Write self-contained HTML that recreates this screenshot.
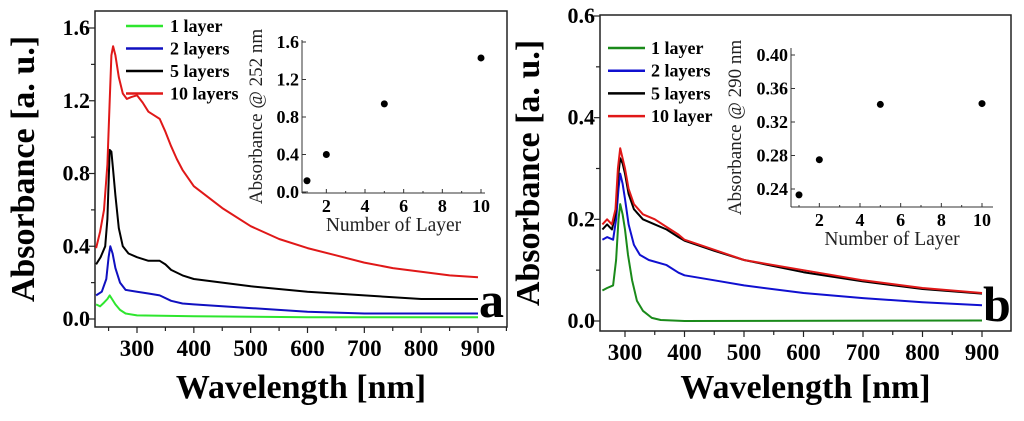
<!DOCTYPE html>
<html><head><meta charset="utf-8"><style>
html,body{margin:0;padding:0;background:#fff;width:1024px;height:421px;overflow:hidden}
svg{display:block;font-family:"Liberation Serif",serif}
</style></head><body>
<svg id="fig" width="1024" height="421"></svg>
<script>
// ---- Panel a data ----
const aRedWl=[228,235,242,248,252,255,258,262,268,275,282,290,300,310,320,330,340,350,360,370,380,400,450,500,550,600,650,700,750,800,850,900];
const aRedAbs=[0.39,0.48,0.6,0.85,1.2,1.45,1.5,1.45,1.33,1.24,1.21,1.22,1.23,1.19,1.14,1.12,1.1,1.03,0.95,0.88,0.82,0.73,0.61,0.51,0.44,0.39,0.35,0.31,0.28,0.26,0.24,0.23];
const aBlackWl=[228,236,244,248,252,255,258,262,268,275,285,300,320,340,350,360,380,400,500,600,700,800,900];
const aBlackAbs=[0.3,0.34,0.4,0.55,0.93,0.92,0.82,0.68,0.5,0.4,0.36,0.34,0.32,0.32,0.3,0.27,0.24,0.22,0.18,0.15,0.13,0.11,0.11];
const aBlueWl=[228,238,246,250,253,257,262,270,280,300,320,340,360,380,400,500,600,700,900];
const aBlueAbs=[0.13,0.15,0.22,0.34,0.4,0.36,0.28,0.2,0.16,0.15,0.14,0.13,0.1,0.085,0.08,0.06,0.04,0.03,0.03];
const aGreenWl=[228,235,242,248,252,256,262,270,280,300,400,600,900];
const aGreenAbs=[0.08,0.07,0.09,0.11,0.13,0.11,0.08,0.05,0.03,0.02,0.015,0.01,0.01];
const aInsetLayers=[1,2,5,10];
const aInsetAbs=[0.12,0.4,0.94,1.43];
const aYTicks=["0.0","0.4","0.8","1.2","1.6"];
const xTicks=["300","400","500","600","700","800","900"];
const aLegend=["1 layer","2 layers","5 layers","10 layers"];
// ---- Panel b data ----
const bRedWl=[262,270,278,284,288,292,296,300,306,315,330,350,370,390,400,450,500,600,700,800,900];
const bRedAbs=[0.19,0.2,0.19,0.22,0.3,0.34,0.32,0.3,0.26,0.23,0.21,0.2,0.185,0.17,0.16,0.14,0.12,0.1,0.08,0.065,0.055];
const bBlackWl=[262,270,278,284,288,292,296,300,306,315,330,350,370,390,400,450,500,600,700,800,900];
const bBlackAbs=[0.18,0.19,0.18,0.21,0.28,0.32,0.31,0.29,0.25,0.22,0.2,0.19,0.18,0.165,0.158,0.138,0.12,0.096,0.078,0.063,0.054];
const bBlueWl=[262,270,280,285,289,292,296,300,306,315,325,340,370,390,400,450,500,600,700,800,900];
const bBlueAbs=[0.16,0.165,0.16,0.2,0.26,0.29,0.27,0.24,0.19,0.15,0.13,0.12,0.11,0.095,0.09,0.08,0.07,0.055,0.045,0.037,0.031];
const bGreenWl=[262,270,280,285,289,292,296,300,305,312,320,330,345,360,400,900];
const bGreenAbs=[0.06,0.065,0.07,0.12,0.2,0.23,0.21,0.18,0.13,0.08,0.04,0.02,0.006,0.002,0,0.001];
const bInsetLayers=[1,2,5,10];
const bInsetAbs=[0.233,0.275,0.341,0.342];
const bYTicks=["0.0","0.2","0.4","0.6"];
const bLegend=["1  layer","2  layers","5  layers","10  layer"];
const insetXTicks=["2","4","6","8","10"];
const aInsetYTicks=["0.0","0.4","0.8","1.2","1.6"];
const bInsetYTicks=["0.24","0.28","0.32","0.36","0.40"];

const NS="http://www.w3.org/2000/svg";
const svg=document.getElementById('fig');
function el(tag,attrs,parent,text){const e=document.createElementNS(NS,tag);for(const k in attrs)e.setAttribute(k,attrs[k]);if(text!==undefined)e.textContent=text;(parent||svg).appendChild(e);return e;}
function lin(d0,d1,r0,r1){return v=>r0+(v-d0)*(r1-r0)/(d1-d0);}

function panel(P){
  const g=el('g',{});
  
  
  const X=lin(300,900,P.x300,P.x900), Y=lin(0,P.ymaxV,P.y0,P.ymaxPx);
  const f=el('rect',{x:P.L,y:P.T,width:P.R-P.L,height:P.B-P.T,fill:'none',stroke:'#222','stroke-width':1.5},g);
  
  for(let w=250;w<=950;w+=50){const px=X(w);if(px<P.L||px>P.R)continue;const major=w%100===0;
    el('line',{x1:px,x2:px,y1:P.B,y2:P.B+(major?6:4),stroke:'#222','stroke-width':1.2},g);}
  xTicks.forEach(t=>{const tx=el('text',{x:X(+t),y:P.B+29,'text-anchor':'middle','font-size':23,'font-weight':'bold'},g,t);
    });
  const step=(+P.yTicks[1])-(+P.yTicks[0]);
  for(let i=0;i<P.yTicks.length*2-1;i++){const v=i*step/2;const py=Y(v);
    el('line',{x1:P.L-(i%2?4:6),x2:P.L,y1:py,y2:py,stroke:'#222','stroke-width':1.2},g);}
  P.yTicks.forEach(t=>{const ty=el('text',{x:P.L-5,y:Y(+t)+7,'text-anchor':'end','font-size':22,'font-weight':'bold'},g,t);
    });
  const xt=el('text',{x:(P.L+P.R)/2,y:398,'text-anchor':'middle','font-size':34,'font-weight':'bold'},g,'Wavelength [nm]');
  
  const yt=el('text',{x:0,y:0,'text-anchor':'middle','font-size':34,'font-weight':'bold',transform:`translate(${P.L-61},${(P.T+P.B)/2}) rotate(-90)`},g,'Absorbance [a. u.]');
  
  P.series.forEach((s,i)=>{
    const pts=s.wl.map((w,j)=>X(w).toFixed(1)+','+Y(s.ab[j]).toFixed(1)).join(' ');
    const pl=el('polyline',{points:pts,fill:'none',stroke:s.c,'stroke-width':2,'stroke-linejoin':'round'},g);
    
    const ly=P.legY+i*P.legDy;
    const ll=el('line',{x1:P.legX,x2:P.legX+37,y1:ly,y2:ly,stroke:s.c,'stroke-width':2.5},g);
    
    const lt=el('text',{x:P.legX+P.legTx,y:ly+6,'font-size':18,'font-weight':'bold','xml:space':'preserve'},g,P.legend[i]);
    
  });
  const lab=el('text',{x:P.R-28,y:P.B-10,'font-size':50,'font-weight':'bold'},g,P.letter);
  
  const I=P.inset;const IX=lin(1,10,I.x1,I.x10), IY=lin(I.v0,I.v1,I.y0,I.y1);
  const ig=el('g',{},g);
  el('line',{x1:I.L,x2:I.L,y1:I.T,y2:I.B,stroke:'#333','stroke-width':1},ig);
  el('line',{x1:I.L,x2:I.R,y1:I.B,y2:I.B,stroke:'#333','stroke-width':1},ig);
  for(let k=1;k<=10;k++){el('line',{x1:IX(k),x2:IX(k),y1:I.B,y2:I.B-(k%2?2:4),stroke:'#333'},ig);}
  insetXTicks.forEach(t=>{el('text',{x:IX(+t),y:I.B+19,'text-anchor':'middle','font-size':18,'font-weight':'bold'},ig,t);});
  I.yTicks.forEach(t=>{const py=IY(+t);el('line',{x1:I.L,x2:I.L+4,y1:py,y2:py,stroke:'#333'},ig);
    el('text',{x:I.L-3,y:py+6,'text-anchor':'end','font-size':18,'font-weight':'bold'},ig,t);});
  el('text',{x:(I.L+I.R)/2,y:I.B+38,'text-anchor':'middle','font-size':19.5,fill:'#222'},ig,'Number of Layer');
  el('text',{x:0,y:0,'text-anchor':'middle','font-size':19,fill:'#222',transform:`translate(${I.L-I.yTitleOff},${(I.T+I.B)/2}) rotate(-90)`},ig,I.title);
  I.layers.forEach((n,j)=>{const c=el('circle',{cx:IX(n),cy:IY(I.abs[j]),r:3.5,fill:'#000'},ig);
    });
}

panel({name:'panel-a',L:95,T:11,R:507,B:327,x300:137,x900:478,y0:319,ymaxPx:28,ymaxV:1.6,yTicks:aYTicks,
  letter:'a',legX:126,legY:26,legDy:22.5,legTx:44,legend:aLegend,
  series:[{id:'1-layer',c:'#2ee62e',wl:aGreenWl,ab:aGreenAbs},{id:'2-layers',c:'#1010c0',wl:aBlueWl,ab:aBlueAbs},
          {id:'5-layers',c:'#000',wl:aBlackWl,ab:aBlackAbs},{id:'10-layers',c:'#e01818',wl:aRedWl,ab:aRedAbs}],
  inset:{L:302,R:485,T:40,B:193,x1:307,x10:481,v0:0,v1:1.6,y0:192,y1:42,yTicks:aInsetYTicks,
    title:'Absorbance @ 252 nm',yTitleOff:40,layers:aInsetLayers,abs:aInsetAbs}});
panel({name:'panel-b',L:600,T:15,R:1011,B:331,x300:625,x900:982,y0:321,ymaxPx:16,ymaxV:0.6,yTicks:bYTicks,
  letter:'b',legX:608,legY:48,legDy:22.7,legTx:43,legend:bLegend,
  series:[{id:'1-layer',c:'#1a8a1a',wl:bGreenWl,ab:bGreenAbs},{id:'2-layers',c:'#1010d0',wl:bBlueWl,ab:bBlueAbs},
          {id:'5-layers',c:'#000',wl:bBlackWl,ab:bBlackAbs},{id:'10-layers',c:'#e01818',wl:bRedWl,ab:bRedAbs}],
  inset:{L:791,R:993,T:48,B:207,x1:799,x10:982,v0:0.24,v1:0.40,y0:189,y1:55,yTicks:bInsetYTicks,
    title:'Absorbance @ 290 nm',yTitleOff:50,layers:bInsetLayers,abs:bInsetAbs}});
</script>
</body></html>
